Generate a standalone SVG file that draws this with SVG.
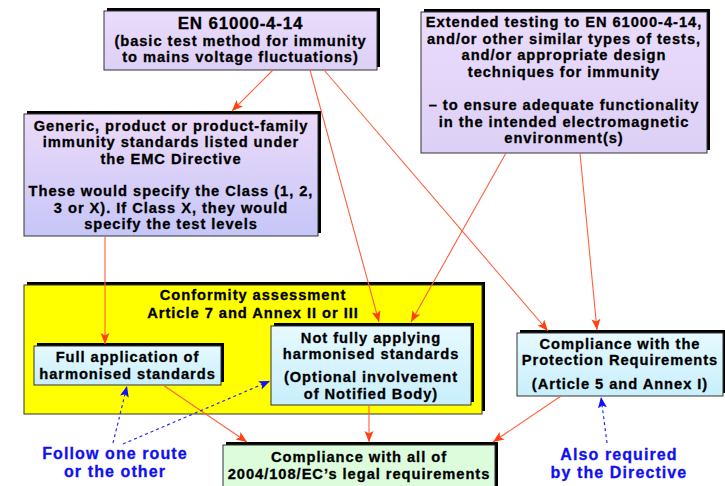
<svg xmlns="http://www.w3.org/2000/svg" width="725" height="486" viewBox="0 0 725 486">
<defs>
<linearGradient id="lav" x1="0" y1="0" x2="0" y2="1"><stop offset="0" stop-color="#eadcfc"/><stop offset="1" stop-color="#ddd0f6"/></linearGradient>
<linearGradient id="lav2" x1="0" y1="0" x2="0" y2="1"><stop offset="0" stop-color="#ecdaf8"/><stop offset="1" stop-color="#c6c6f8"/></linearGradient>
<linearGradient id="cyan" x1="0" y1="0" x2="0" y2="1"><stop offset="0" stop-color="#e6f9ff"/><stop offset="1" stop-color="#c8effc"/></linearGradient>
<marker id="ar" markerUnits="userSpaceOnUse" markerWidth="12" markerHeight="10" refX="11" refY="4.5" orient="auto"><path d="M0,0 L11,4.5 L0,9 L2.5,4.5 z" fill="#ff4010"/></marker>
<marker id="ab" markerUnits="userSpaceOnUse" markerWidth="12" markerHeight="10" refX="11" refY="4.5" orient="auto"><path d="M0,0 L11,4.5 L0,9 L2.5,4.5 z" fill="#1010ff"/></marker>
</defs>
<style>
text{font-family:"Liberation Sans",Arial,sans-serif;font-weight:bold;text-anchor:middle;fill:#000;stroke:#000;stroke-width:0.3px}
.t{font-size:14.7px;letter-spacing:0.95px}
.h{font-size:17px;letter-spacing:0.8px}
.b{font-size:16px;letter-spacing:1.1px;fill:#1010f0;stroke:#1010f0}
.sh{fill:#000}
.bx{stroke:#333;stroke-width:1}
.r{stroke:#ff6040;stroke-width:1.1;fill:none;marker-end:url(#ar)}
.d{stroke:#2a2aff;stroke-width:1.2;stroke-dasharray:3,3;fill:none;marker-end:url(#ab)}
</style>
<g id="conformity">
<rect class="sh" x="27" y="282" width="458" height="129"/>
<rect class="bx" x="24" y="285" width="458" height="129" fill="#ffff00"/>
<text class="t"><tspan x="253" y="300">Conformity assessment</tspan><tspan x="253" y="318">Article 7 and Annex II or III</tspan></text>
</g>
<g id="en61000">
<rect class="sh" x="107" y="8" width="273" height="59"/>
<rect class="bx" x="104" y="11" width="273" height="59" fill="url(#lav)"/>
<text class="t"><tspan class="h" x="240.5" y="28.5">EN 61000-4-14</tspan><tspan x="240.5" y="45.5">(basic test method for immunity</tspan><tspan x="240.5" y="62">to mains voltage fluctuations)</tspan></text>
</g>
<g id="extended">
<rect class="sh" x="424" y="9" width="286" height="141"/>
<rect class="bx" x="421" y="12" width="286" height="141" fill="url(#lav)"/>
<text class="t"><tspan x="564" y="27">Extended testing to EN 61000-4-14,</tspan><tspan x="564" y="43.5">and/or other similar types of tests,</tspan><tspan x="564" y="60">and/or appropriate design</tspan><tspan x="564" y="76.5">techniques for immunity</tspan><tspan x="564" y="110">– to ensure adequate functionality</tspan><tspan x="564" y="126.5">in the intended electromagnetic</tspan><tspan x="564" y="143">environment(s)</tspan></text>
</g>
<g id="generic">
<rect class="sh" x="27" y="111" width="294" height="122"/>
<rect class="bx" x="24" y="114" width="294" height="122" fill="url(#lav2)"/>
<text class="t"><tspan x="171" y="130.5">Generic, product or product-family</tspan><tspan x="171" y="147">immunity standards listed under</tspan><tspan x="171" y="163.5">the EMC Directive</tspan><tspan x="171" y="196">These would specify the Class (1, 2,</tspan><tspan x="171" y="212.5">3 or X). If Class X, they would</tspan><tspan x="171" y="229">specify the test levels</tspan></text>
</g>
<g id="full">
<rect class="sh" x="37" y="343" width="187" height="39"/>
<rect class="bx" x="34" y="346" width="187" height="39" fill="url(#cyan)"/>
<text class="t"><tspan x="127.5" y="362">Full application of</tspan><tspan x="127.5" y="378.5">harmonised standards</tspan></text>
</g>
<g id="notfully">
<rect class="sh" x="274" y="323" width="200" height="79"/>
<rect class="bx" x="271" y="326" width="200" height="79" fill="url(#cyan)"/>
<text class="t"><tspan x="371" y="342.5">Not fully applying</tspan><tspan x="371" y="359">harmonised standards</tspan><tspan x="371" y="382">(Optional involvement</tspan><tspan x="371" y="398.5">of Notified Body)</tspan></text>
</g>
<g id="protection">
<rect class="sh" x="520" y="330" width="206" height="63"/>
<rect class="bx" x="517" y="333" width="206" height="63" fill="url(#cyan)"/>
<text class="t"><tspan x="620" y="348.5">Compliance with the</tspan><tspan x="620" y="365">Protection Requirements</tspan><tspan x="620" y="388.5">(Article 5 and Annex I)</tspan></text>
</g>
<g id="complianceall">
<rect class="sh" x="226" y="442" width="272" height="50"/>
<rect class="bx" x="223" y="445" width="272" height="50" fill="#dcfcdc"/>
<text class="t"><tspan x="359" y="462">Compliance with all of</tspan><tspan x="359" y="478.5">2004/108/EC’s legal requirements</tspan></text>
</g>
<g id="follow">
<text class="b"><tspan x="115" y="459">Follow one route</tspan><tspan x="115" y="477">or the other</tspan></text>
</g>
<g id="alsorequired">
<text class="b"><tspan x="619" y="459.5">Also required</tspan><tspan x="619" y="477.5">by the Directive</tspan></text>
</g>
<g id="connectors">
<line class="r" x1="273" y1="70" x2="232" y2="111"/>
<line class="r" x1="310" y1="70" x2="379" y2="322"/>
<line class="r" x1="324" y1="70" x2="548" y2="331"/>
<line class="r" x1="506" y1="153" x2="411" y2="322"/>
<line class="r" x1="580" y1="153" x2="597" y2="330"/>
<line class="r" x1="105" y1="236" x2="105" y2="344"/>
<line class="r" x1="163" y1="385" x2="247" y2="442"/>
<line class="r" x1="369" y1="405" x2="369" y2="442"/>
<line class="r" x1="561" y1="396" x2="493" y2="442"/>
<line class="d" x1="113" y1="443" x2="127" y2="386"/>
<line class="d" x1="123" y1="444" x2="270" y2="381"/>
<line class="d" x1="607" y1="443" x2="601" y2="397"/>
</g>
</svg>
